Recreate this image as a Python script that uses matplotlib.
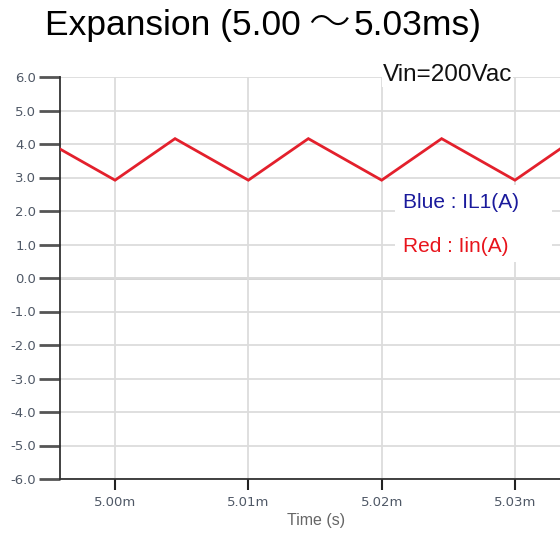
import matplotlib
matplotlib.use("Agg")
import matplotlib.pyplot as plt
from matplotlib.patches import Rectangle

# Data (time in ms, current in A)
time_ms = [4.99587, 5.000, 5.0045, 5.010, 5.0145, 5.020, 5.0245, 5.030, 5.03338]
iin = [3.85, 2.92, 4.16, 2.92, 4.16, 2.92, 4.16, 2.92, 3.85]
xticks = [5.00, 5.01, 5.02, 5.03]
xticklabels = ["5.00m", "5.01m", "5.02m", "5.03m"]
yticks = [6.0, 5.0, 4.0, 3.0, 2.0, 1.0, 0.0, -1.0, -2.0, -3.0, -4.0, -5.0, -6.0]
title_parts = ["Expansion (5.00", "～", "5.03ms)"]

fig = plt.figure(figsize=(5.6, 5.35), dpi=100)
ax = fig.add_axes([60/560, 1-479/535, 500/560, (479-77)/535])

ax.plot(time_ms, iin, color="#e3202c", lw=2.0, zorder=3, solid_joinstyle="miter")

ax.set_xlim(time_ms[0], time_ms[-1])
ax.set_ylim(-6.0, 6.0)
ax.set_yticks(yticks)
ax.set_yticklabels([f"{v:.1f}" for v in yticks])
ax.set_xticks(xticks)
ax.set_xticklabels(xticklabels)

ax.grid(True, color="#dcdcdc", lw=1.3, zorder=0)
ax.axhline(0, color="#d0d0d0", lw=2.0, zorder=1)

for s in ["top", "right"]:
    ax.spines[s].set_visible(False)
for s in ["left", "bottom"]:
    ax.spines[s].set_color("#333333")
    ax.spines[s].set_linewidth(1.3)

ax.tick_params(axis="y", length=15, width=2, color="#555555", labelcolor="#4f5866",
               labelsize=9.5, pad=2)
ax.tick_params(axis="x", length=8, width=1.5, color="#222222", labelcolor="#4f5866",
               labelsize=9.5, pad=4)
for lab in ax.get_xticklabels() + ax.get_yticklabels():
    lab.set_family("DejaVu Sans")

fig.text(316/560, 1-521/535, "Time (s)", fontsize=11.5, color="#666666",
         family="Liberation Sans", ha="center", va="center")

# Title
ty = 1 - 25/535
fig.text(45/560, ty, title_parts[0], fontsize=25.5,
         family="Liberation Sans", va="center", ha="left")
fig.text(329/560, ty + 1/535, title_parts[1], fontsize=30, fontweight="light",
         family=["Noto Sans CJK JP", "DejaVu Sans"], va="center", ha="center")
fig.text(354/560, ty, title_parts[2], fontsize=25.5,
         family="Liberation Sans", va="center", ha="left")

fig.text(383/560, 1-75/535, "Vin=200Vac", fontsize=17.5, family="Liberation Sans",
         va="center", ha="left", color="#111111",
         bbox=dict(facecolor="white", edgecolor="none", pad=0.5))

fig.patches.append(Rectangle((395/560, 1-262/535), 157/560, 77/535,
                             transform=fig.transFigure, facecolor="white",
                             edgecolor="none", zorder=5))
fig.text(403/560, 1-203/535, "Blue : IL1(A)", fontsize=15, family="Liberation Sans",
         va="center", ha="left", color="#1a1a9c", zorder=6)
fig.text(403/560, 1-246/535, "Red : Iin(A)", fontsize=15, family="Liberation Sans",
         va="center", ha="left", color="#e8141c", zorder=6)

fig.savefig("out.png", dpi=100)
